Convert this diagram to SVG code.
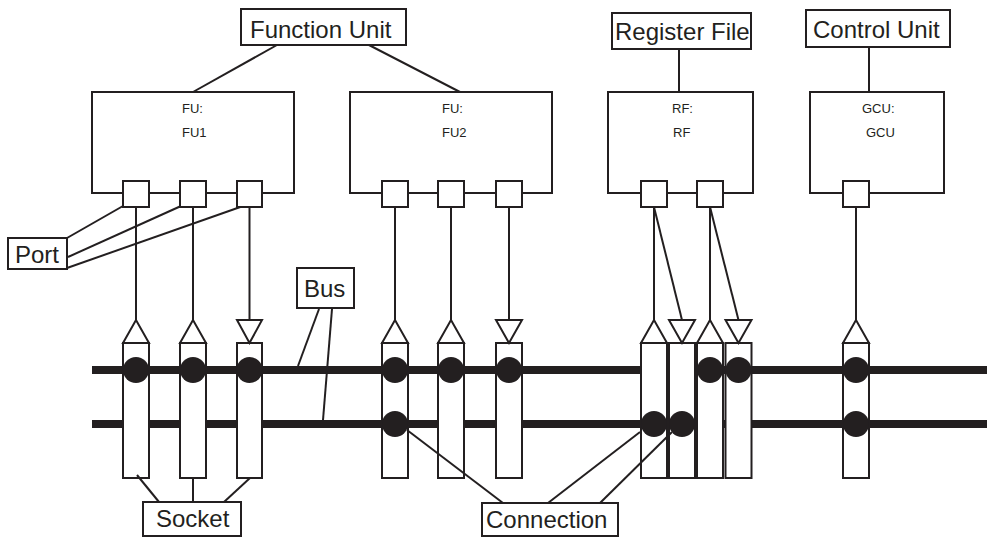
<svg xmlns="http://www.w3.org/2000/svg" width="987" height="537" viewBox="0 0 987 537">
<style>
.box{fill:#fff;stroke:#231f20;stroke-width:2}
.ln{fill:none;stroke:#231f20;stroke-width:2}
.bus{stroke:#231f20;stroke-width:8}
.dot{fill:#231f20}
.lbl{font-family:"Liberation Sans",Arial,sans-serif;font-size:24px;fill:#231f20}
.sm{font-family:"Liberation Sans",Arial,sans-serif;font-size:13px;fill:#231f20}
</style>
<rect width="987" height="537" fill="#fff"/>
<g id="connectors">
<line class="ln" x1="277" y1="45" x2="193" y2="92"/>
<line class="ln" x1="367" y1="44" x2="460" y2="92"/>
<line class="ln" x1="679" y1="49" x2="679" y2="92"/>
<line class="ln" x1="869" y1="47" x2="869" y2="92"/>
<line class="ln" x1="67" y1="238" x2="123" y2="206"/>
<line class="ln" x1="68" y1="257" x2="181" y2="206"/>
<line class="ln" x1="67" y1="268" x2="246" y2="205"/>
<line class="ln" x1="136" y1="207" x2="136" y2="320"/>
<line class="ln" x1="193" y1="207" x2="193" y2="320"/>
<line class="ln" x1="249.5" y1="207" x2="249.5" y2="320"/>
<line class="ln" x1="395" y1="207" x2="395" y2="320"/>
<line class="ln" x1="451" y1="207" x2="451" y2="320"/>
<line class="ln" x1="509" y1="207" x2="509" y2="320"/>
<line class="ln" x1="654" y1="207" x2="654" y2="320"/>
<line class="ln" x1="654" y1="207" x2="682" y2="320"/>
<line class="ln" x1="710" y1="207" x2="710" y2="320"/>
<line class="ln" x1="710" y1="207" x2="738.5" y2="320"/>
<line class="ln" x1="856" y1="207" x2="856" y2="320"/>
</g>
<g id="buses">
<line class="bus" x1="92" y1="370" x2="987" y2="370"/>
<line class="bus" x1="92" y1="424" x2="987" y2="424"/>
</g>
<g id="label-function-unit"><rect class="box" x="241" y="9" width="165" height="36"/><text class="lbl" x="250" y="38">Function Unit</text></g>
<g id="label-register-file"><rect class="box" x="612" y="13" width="139" height="36"/><text class="lbl" x="615" y="40">Register File</text></g>
<g id="label-control-unit"><rect class="box" x="806" y="10" width="144" height="37"/><text class="lbl" x="813" y="38">Control Unit</text></g>
<g id="label-port"><rect class="box" x="8" y="238" width="59" height="31"/><text class="lbl" x="15" y="263">Port</text></g>
<g id="label-bus"><rect class="box" x="297" y="268" width="57" height="40"/><text class="lbl" x="304" y="297">Bus</text></g>
<g id="label-socket"><rect class="box" x="143" y="502" width="98" height="34"/><text class="lbl" x="156" y="527">Socket</text></g>
<g id="label-connection"><rect class="box" x="482" y="503" width="136" height="33"/><text class="lbl" x="486" y="528">Connection</text></g>
<g id="fu1"><rect class="box" x="92" y="92" width="202" height="101"/><text class="sm" x="182" y="113">FU:</text><text class="sm" x="182" y="137">FU1</text>
<rect class="box" x="123" y="181" width="26" height="26"/><rect class="box" x="180" y="181" width="26" height="26"/><rect class="box" x="237" y="181" width="25" height="26"/></g>
<g id="fu2"><rect class="box" x="350" y="92" width="202" height="101"/><text class="sm" x="442" y="113">FU:</text><text class="sm" x="442" y="137">FU2</text>
<rect class="box" x="382" y="181" width="26" height="26"/><rect class="box" x="438" y="181" width="26" height="26"/><rect class="box" x="496" y="181" width="26" height="26"/></g>
<g id="rf"><rect class="box" x="608" y="92" width="145" height="101"/><text class="sm" x="672" y="113">RF:</text><text class="sm" x="673" y="137">RF</text>
<rect class="box" x="641" y="181" width="26" height="26"/><rect class="box" x="697" y="181" width="26" height="26"/></g>
<g id="gcu"><rect class="box" x="810" y="92" width="134" height="101"/><text class="sm" x="862" y="113">GCU:</text><text class="sm" x="866" y="137">GCU</text>
<rect class="box" x="843" y="181" width="26" height="26"/></g>
<g id="sockets">
<rect class="box" x="123" y="343" width="26" height="135"/>
<rect class="box" x="180" y="343" width="26" height="135"/>
<rect class="box" x="237" y="343" width="25" height="135"/>
<rect class="box" x="382" y="343" width="26" height="135"/>
<rect class="box" x="438" y="343" width="26" height="135"/>
<rect class="box" x="496" y="343" width="26" height="135"/>
<rect class="box" x="641" y="343" width="26" height="135"/>
<rect class="box" x="669" y="343" width="26" height="135"/>
<rect class="box" x="697" y="343" width="26" height="135"/>
<rect class="box" x="725.5" y="343" width="26" height="135"/>
<rect class="box" x="843" y="343" width="26" height="135"/>
<polygon class="box" points="123,343 136,320 149,343"/>
<polygon class="box" points="180,343 193,320 206,343"/>
<polygon class="box" points="237,320 262,320 249.5,343"/>
<polygon class="box" points="382,343 395,320 408,343"/>
<polygon class="box" points="438,343 451,320 464,343"/>
<polygon class="box" points="496,320 522,320 509,343"/>
<polygon class="box" points="641,343 654,320 667,343"/>
<polygon class="box" points="669,320 695,320 682,343"/>
<polygon class="box" points="697,343 710,320 723,343"/>
<polygon class="box" points="725.5,320 751.5,320 738.5,343"/>
<polygon class="box" points="843,343 856,320 869,343"/>
</g>
<g id="connections">
<circle class="dot" cx="136" cy="370" r="13"/>
<circle class="dot" cx="193" cy="370" r="13"/>
<circle class="dot" cx="249.5" cy="370" r="13"/>
<circle class="dot" cx="395" cy="370" r="13"/>
<circle class="dot" cx="451" cy="370" r="13"/>
<circle class="dot" cx="509" cy="370" r="13"/>
<circle class="dot" cx="710" cy="370" r="13"/>
<circle class="dot" cx="738.5" cy="370" r="13"/>
<circle class="dot" cx="856" cy="370" r="13"/>
<circle class="dot" cx="395" cy="424" r="13"/>
<circle class="dot" cx="654" cy="424" r="13"/>
<circle class="dot" cx="682" cy="424" r="13"/>
<circle class="dot" cx="856" cy="424" r="13"/>
</g>
<g id="leaders">
<line class="ln" x1="319" y1="309" x2="298" y2="366"/>
<line class="ln" x1="332" y1="309" x2="323" y2="420"/>
<line class="ln" x1="137" y1="475" x2="159" y2="502"/>
<line class="ln" x1="193" y1="478" x2="193" y2="502"/>
<line class="ln" x1="250" y1="478" x2="224" y2="502"/>
<line class="ln" x1="407" y1="430" x2="503" y2="503"/>
<line class="ln" x1="640" y1="432" x2="548" y2="503"/>
<line class="ln" x1="672" y1="432" x2="600" y2="503"/>
</g>
</svg>
